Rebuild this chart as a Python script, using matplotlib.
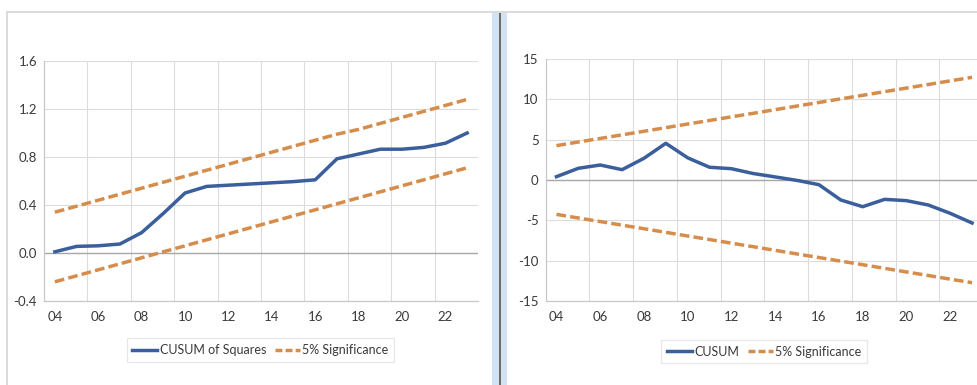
import matplotlib
matplotlib.use("Agg")
import matplotlib.pyplot as plt
from matplotlib.patches import Rectangle
from matplotlib.lines import Line2D

plt.rcParams['font.family'] = ['Lato', 'DejaVu Sans']

years = list(range(2004, 2024))
tick_years = list(range(2004, 2024, 2))
tick_labels = ["%02d" % (y % 100) for y in tick_years]

# CUSUM of squares and its 5% bands
cusumsq = [0.01, 0.055, 0.06, 0.075, 0.17, 0.33, 0.50, 0.555, 0.565, 0.575,
           0.585, 0.595, 0.61, 0.785, 0.825, 0.865, 0.865, 0.88, 0.915, 1.00]
cusumsq_hi = [0.34, 0.39, 0.44, 0.49, 0.54, 0.59, 0.64, 0.69, 0.74, 0.79,
              0.84, 0.89, 0.94, 0.99, 1.03, 1.08, 1.13, 1.18, 1.23, 1.28]
cusumsq_lo = [-0.24, -0.19, -0.14, -0.09, -0.04, 0.01, 0.06, 0.11, 0.16, 0.21,
              0.26, 0.31, 0.36, 0.41, 0.46, 0.51, 0.56, 0.61, 0.66, 0.71]

# CUSUM and its 5% bands
cusum = [0.41, 1.45, 1.86, 1.28, 2.69, 4.55, 2.75, 1.58, 1.40, 0.80,
         0.38, -0.05, -0.58, -2.48, -3.31, -2.40, -2.56, -3.10, -4.13, -5.33]
cusum_hi = [4.26, 4.71, 5.15, 5.60, 6.04, 6.49, 6.94, 7.38, 7.83, 8.27,
            8.72, 9.17, 9.61, 10.06, 10.50, 10.95, 11.40, 11.84, 12.29, 12.73]
cusum_lo = [-v for v in cusum_hi]

BLUE = '#3b5f9c'
ORANGE = '#d68d4c'
GRID = '#dcdcdc'
TEXT = '#3a3a3a'
LW = 2.5
DASH = (0, (2.8, 1.2))
W, H = 978, 385


def px(x0, y0, x1, y1):
    # pixel box (top-left origin) -> figure fraction rect
    return [x0 / W, (H - y1) / H, (x1 - x0) / W, (y1 - y0) / H]


def style_axes(ax, yticks, ylabels):
    ax.set_xlim(2003.5, 2023.5)
    ax.set_xticks(tick_years)
    ax.set_xticklabels(tick_labels)
    ax.set_xticks([y + 0.5 for y in range(2005, 2023, 2)], minor=True)
    ax.set_yticks(yticks)
    ax.set_yticklabels(ylabels)
    ax.set_ylim(yticks[0], yticks[-1])
    ax.tick_params(which='both', length=0, labelsize=9.5, colors=TEXT)
    ax.tick_params(axis='x', pad=7)
    ax.tick_params(axis='y', pad=5)
    ax.grid(axis='y', which='major', color=GRID, lw=0.8)
    ax.grid(axis='x', which='minor', color=GRID, lw=0.8)
    ax.axhline(0, color='#a8a8a8', lw=1.0, zorder=1)
    for s in ['top', 'right']:
        ax.spines[s].set_visible(False)
    for s in ['left', 'bottom']:
        ax.spines[s].set_color('#c8c8c8')
        ax.spines[s].set_linewidth(0.9)
    ax.set_axisbelow(True)


def add_legend(ax, label, cx, cy):
    handles = [Line2D([], [], color=BLUE, lw=LW),
               Line2D([], [], color=ORANGE, lw=LW, ls=(0, (2.0, 0.9)))]
    leg = ax.legend(handles, [label, '5% Significance'], loc='center',
                    bbox_to_anchor=(cx / W, 1 - cy / H),
                    bbox_transform=ax.figure.transFigure, ncol=2,
                    fancybox=False, frameon=True, fontsize=9,
                    handlelength=2.0, handletextpad=0.2, columnspacing=0.7,
                    borderpad=0.45, labelcolor=TEXT)
    leg.get_frame().set_edgecolor('#e2e2e2')
    leg.get_frame().set_linewidth(0.9)


fig = plt.figure(figsize=(9.78, 3.85), dpi=100)
fig.patch.set_facecolor('white')

# outer frame and the splitter between the two panes
fig.add_artist(Line2D([7 / W, 1], [1 - 12 / H] * 2, color='#dadada', lw=1.4,
                      transform=fig.transFigure))
fig.add_artist(Line2D([7 / W] * 2, [0, 1 - 12 / H], color='#dadada', lw=1.4,
                      transform=fig.transFigure))
for x0, x1 in [(492, 499), (501, 507)]:
    fig.add_artist(Rectangle(px(x0, 12.5, x1, H)[:2], (x1 - x0) / W, (H - 12.5) / H,
                             transform=fig.transFigure, color='#d3e2f3', lw=0))
fig.add_artist(Rectangle(px(499, 12.5, 501, H)[:2], 2 / W, (H - 12.5) / H,
                         transform=fig.transFigure, color='#6e6e6e', lw=0))

# left: CUSUM of squares
ax1 = fig.add_axes(px(44, 61, 478, 301))
ax1.plot(years, cusumsq_hi, color=ORANGE, lw=LW, ls=DASH)
ax1.plot(years, cusumsq_lo, color=ORANGE, lw=LW, ls=DASH)
ax1.plot(years, cusumsq, color=BLUE, lw=LW, solid_joinstyle='round')
sq_ticks = [-0.4, 0.0, 0.4, 0.8, 1.2, 1.6]
style_axes(ax1, sq_ticks, ["%.1f" % t for t in sq_ticks])
add_legend(ax1, 'CUSUM of Squares', 260.5, 350)

# right: CUSUM
ax2 = fig.add_axes(px(545.5, 59, 983, 301))
ax2.plot(years, cusum_hi, color=ORANGE, lw=LW, ls=DASH)
ax2.plot(years, cusum_lo, color=ORANGE, lw=LW, ls=DASH)
ax2.plot(years, cusum, color=BLUE, lw=LW, solid_joinstyle='round')
cu_ticks = [-15, -10, -5, 0, 5, 10, 15]
style_axes(ax2, cu_ticks, [str(t) for t in cu_ticks])
add_legend(ax2, 'CUSUM', 764, 351.5)

fig.savefig('out.png', dpi=100, facecolor='white')
